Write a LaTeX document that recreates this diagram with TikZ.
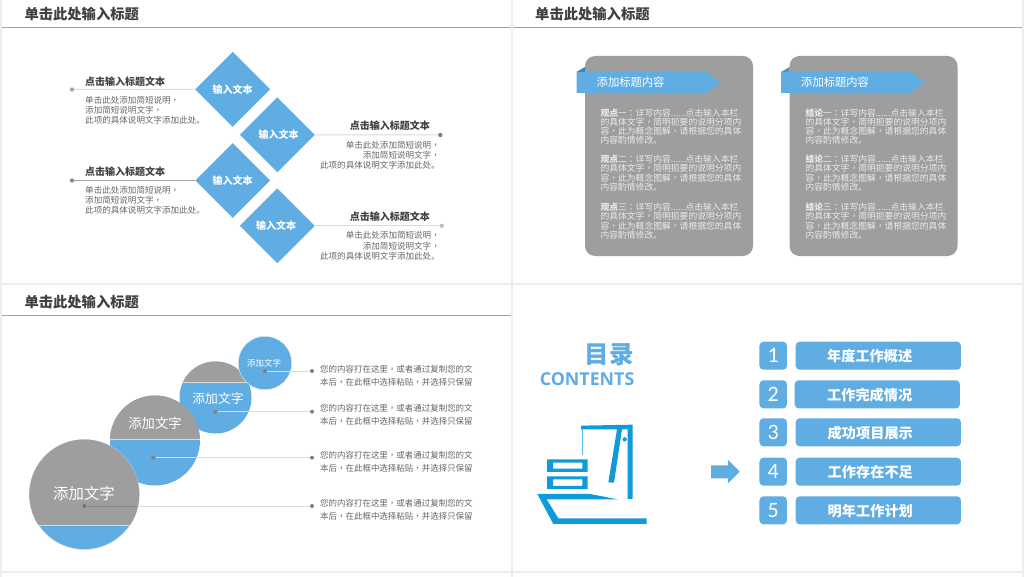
\documentclass[tikz,border=0pt]{standalone}
\usepackage{fontspec}
\setmainfont{Noto Sans CJK SC}
\newfontfamily\tcf{Noto Sans CJK TC}
\newfontfamily\latinf{Open Sans}
\newfontfamily\digitf{Carlito}
\usetikzlibrary{shapes.geometric}
\definecolor{mblue}{HTML}{5FADE2}
\definecolor{mgray}{HTML}{9E9E9E}
\definecolor{edgebg}{HTML}{E9EFF0}
\definecolor{ruleg}{HTML}{A3A3A3}
\definecolor{titleg}{HTML}{404040}
\definecolor{bodyg}{HTML}{666666}
\definecolor{iconb}{HTML}{0F9BD9}
\definecolor{foldb}{HTML}{2A86C8}
\newcommand{\cm}{{\tcf ，}}
\newcommand{\cn}{{\tcf ：}}
\tikzset{
  panel/.style={fill=white,draw=none},
  slidetitle/.style={anchor=west,inner sep=0pt,text=titleg,font=\fontsize{14.3}{16}\selectfont\bfseries},
  rulerline/.style={draw=ruleg,line width=0.9pt},
  dia/.style={diamond,aspect=1,fill=mblue,inner sep=0pt,minimum width=75pt,minimum height=75pt},
  dialabel/.style={inner sep=0pt,text=white,font=\fontsize{10}{12}\selectfont\bfseries},
  head/.style={inner sep=0pt,text=titleg,font=\fontsize{10}{12}\selectfont\bfseries},
  bodyl/.style={inner sep=0pt,anchor=north west,align=left,text=bodyg,font=\fontsize{8.55}{10.35}\selectfont},
  bodyr/.style={inner sep=0pt,anchor=north east,align=right,text=bodyg,font=\fontsize{8.55}{10.35}\selectfont},
  link/.style={draw=black!14,line width=1pt},
  dotn/.style={circle,inner sep=0pt,minimum size=4.4pt,fill=#1},
  card/.style={fill=mgray,rounded corners=10pt},
  banner/.style={fill=mblue},
  bannertxt/.style={anchor=west,inner sep=0pt,text=white,font=\fontsize{11.3}{13}\selectfont},
  cardtxt/.style={anchor=west,inner sep=0pt,align=left,text=white!92!black,font=\fontsize{8.8}{9.25}\selectfont},
  ball/.style={circle,inner sep=0pt,minimum size=#1,fill=mblue},
  balltxt/.style={inner sep=0pt,text=white},
  note/.style={anchor=west,inner sep=0pt,align=left,text=bodyg,font=\fontsize{8.47}{13.2}\selectfont},
  numbox/.style={fill=mblue,rounded corners=4pt,inner sep=0pt,minimum width=27.5pt,minimum height=28pt,text=white,font=\digitf\fontsize{22}{24}\selectfont},
  barbox/.style={fill=mblue,rounded corners=4pt,inner sep=0pt,minimum width=165.3pt,minimum height=28pt},
  bartxt/.style={inner sep=0pt,text=white,font=\fontsize{14.2}{16}\selectfont\bfseries},
  icon/.style={fill=iconb,draw=none}
}
\newcommand{\headerrow}[2]{%
  \node[slidetitle] at (#1,#2) {单击此处输入标题};
}
\newcommand{\cardpara}[4]{\node[cardtxt] at (#1,#2) {\textbf{#3}#4\cn 详写内容......点击输入本栏\\的具体文字\cm 简明扼要的说明分项内\\容\cm 此为概念图解\cm 请根据您的具体\\内容酌情修改。};}
\newcommand{\bodytext}{单击此处添加简短说明\cm\\添加简短说明文字\cm\\此项的具体说明文字添加此处。}
\newcommand{\notetext}{您的内容打在这里\cm 或者通过复制您的文\\本后\cm 在此框中选择粘贴\cm 并选择只保留}
\begin{document}
\begin{tikzpicture}[x=1pt,y=-1pt]
\useasboundingbox (0,0) rectangle (1024,577);
\fill[edgebg] (0,0) rectangle (1024,577);
\fill[panel] (2,0) rectangle (511,283);
\fill[panel] (513,0) rectangle (1022,283);
\fill[panel] (2,285) rectangle (511,570.5);
\fill[panel] (513,285) rectangle (1022,570.5);
\fill[panel] (2,573) rectangle (511,577);
\fill[panel] (513,573) rectangle (1022,577);
% headers
\headerrow{24.3}{14}
\headerrow{535}{14}
\headerrow{24.3}{302}
\draw[rulerline] (2,27.5) -- (511,27.5);
\draw[rulerline] (513,27.5) -- (1022,27.5);
\draw[rulerline] (2,315.5) -- (511,315.5);
% ---- panel 1
\node[dia] (d1) at (232.7,89.3) {};
\node[dia] (d2) at (277.3,134.8) {};
\node[dia] (d3) at (232.7,180.5) {};
\node[dia] (d4) at (277.3,225.8) {};
\node[dialabel] at (232.7,89.5) {输入文本};
\node[dialabel] at (278.5,135) {输入文本};
\node[dialabel] at (232.7,180.5) {输入文本};
\node[dialabel] at (276,225.7) {输入文本};
\node[dotn=black!35] (p1) at (72,89.5) {};
\node[dotn=black!50] (p2) at (440.3,135) {};
\node[dotn=black!45] (p3) at (72,180.5) {};
\node[dotn=black!25] (p4) at (441.7,225.8) {};
\draw[link] (p1) -- (d1.west);
\draw[link] (p2) -- (d2.east);
\draw[link,draw=black!35,line width=0.7pt] (p3) -- (d3.west);
\draw[link] (p4) -- (d4.east);
\node[head,anchor=west] at (85,81.7) {点击输入标题文本};
\node[head,anchor=west] at (85,172) {点击输入标题文本};
\node[head,anchor=east] at (430,126) {点击输入标题文本};
\node[head,anchor=east] at (430,216.7) {点击输入标题文本};
\node[bodyl] at (85,95.6) {\bodytext};
\node[bodyl] at (85,185.7) {\bodytext};
\node[bodyr] at (440,140.7) {\bodytext};
\node[bodyr] at (440,231.4) {\bodytext};
% ---- panel 2
\fill[card] (585,56) rectangle (753,256);
\fill[card] (789.5,56) rectangle (957.5,256);
\fill[foldb] (576.5,72) -- (585,67) -- (585,72) -- cycle;
\fill[foldb!55!mgray] (781,72) -- (789.5,67) -- (789.5,72) -- cycle;
\fill[banner] (576.5,72) -- (706,72) -- (720.5,82.5) -- (706,93) -- (576.5,93) -- cycle;
\fill[banner] (781,72) -- (910.5,72) -- (925,82.5) -- (910.5,93) -- (781,93) -- cycle;
\node[bannertxt] at (596.5,82.5) {添加标题内容};
\node[bannertxt] at (801,82.5) {添加标题内容};
\cardpara{600.3}{126.5}{观点}{一}
\cardpara{600.3}{173.2}{观点}{二}
\cardpara{600.3}{221.2}{观点}{三}
\cardpara{805.3}{126.5}{结论}{一}
\cardpara{805.3}{173.2}{结论}{二}
\cardpara{805.3}{221.2}{结论}{三}
% ---- panel 3
\node[ball=72pt] (c3) at (215.5,397.5) {};
\begin{scope}
  \clip (215.5,397.5) circle (36);
  \fill[mgray] (170,355) rectangle (260,382.3);
  \draw[white!85!black,line width=0.7pt] (170,382.3) -- (260,382.3);
\end{scope}
\node[ball=53.5pt,draw=white!92!black,line width=0.4pt] (c4) at (265,363) {};
\node[ball=90pt] (c2) at (155,440.5) {};
\begin{scope}
  \clip (155,440.5) circle (45);
  \fill[mgray] (105,390) rectangle (205,439.7);
  \draw[white!85!black,line width=0.7pt] (105,439.7) -- (205,439.7);
\end{scope}
\node[ball=110pt,draw=white!88!black,line width=0.5pt] (c1) at (84.3,494.5) {};
\begin{scope}
  \clip (84.3,494.5) circle (55);
  \fill[mgray] (25,435) rectangle (145,525.3);
  \draw[white!85!black,line width=0.7pt] (25,525.3) -- (145,525.3);
\end{scope}
\node[dotn=black!55,minimum size=4pt] (a1) at (84.3,506) {};
\node[dotn=black!50,minimum size=4pt] (a2) at (153.3,457.7) {};
\node[dotn=black!50,minimum size=4pt] (a3) at (215.3,411.7) {};
\node[dotn=black!50,minimum size=4pt] (a4) at (265,371) {};
\node[dotn=black!50,minimum size=4pt] (b1) at (312,506) {};
\node[dotn=black!50,minimum size=4pt] (b2) at (312,457.7) {};
\node[dotn=black!50,minimum size=4pt] (b3) at (312,411.7) {};
\node[dotn=black!50,minimum size=4pt] (b4) at (312,371) {};
\draw[link,line width=0.8pt] (a1) -- (b1);
\draw[link,line width=0.8pt] (a2) -- (b2);
\draw[link,line width=0.8pt] (a3) -- (b3);
\draw[link,line width=0.8pt] (a4) -- (b4);
\begin{scope}
  \clip (84.3,494.5) circle (54.5);
  \draw[draw=black!48,line width=0.8pt] (a1) -- (b1);
\end{scope}
\node[balltxt,font=\fontsize{15.4}{18}\selectfont] at (84,494) {添加文字};
\node[balltxt,font=\fontsize{13.3}{16}\selectfont] at (155,423) {添加文字};
\node[balltxt,font=\fontsize{12.8}{15}\selectfont] at (218,398.5) {添加文字};
\node[balltxt,font=\fontsize{8.5}{10}\selectfont] at (264,363) {添加文字};
\node[note] at (320,376) {\notetext};
\node[note] at (320,414.7) {\notetext};
\node[note] at (320,461.8) {\notetext};
\node[note] at (320,509.5) {\notetext};
% ---- panel 4
\node[anchor=east,inner sep=0pt,text=mblue,font=\fontsize{24.5}{28}\selectfont\bfseries] at (634,355) {目录};
\node[anchor=east,inner sep=0pt,text=mblue,font=\latinf\fontsize{17.8}{20}\selectfont\bfseries] at (634.5,378.7) {CONTENTS};
\begin{scope}[shift={(525,400)},x=0.3333pt,y=-0.3333pt]
  \fill[icon] (168,77) -- (323,74) -- (323,297) -- (308,297) -- (308,88) -- (291,88) -- (267,248) -- (250,247) -- (276,88) -- (168,88) -- cycle;
  \fill[iconb!70!white] (170,88) rectangle (175,166);
  \fill[icon] (299,118) circle (6.5);
  \fill[icon,even odd rule] (66,178) rectangle (188,216) (84,188) rectangle (172,206);
  \fill[icon,even odd rule] (66,229) rectangle (188,267) (84,238) rectangle (172,258);
  \fill[icon] (37,282) -- (195,282) -- (278,298) -- (65,298) -- (100,355) -- (365,355) -- (365,372) -- (85,372) -- cycle;
\end{scope}
\fill[mblue] (711,465.3) -- (728,465.3) -- (728,460) -- (739.7,471.7) -- (728,483.3) -- (728,478.3) -- (711,478.3) -- cycle;
\node[numbox] (n1) at (773.2,355.7) {1};
\node[numbox] (n2) at (773.2,394.3) {2};
\node[numbox] (n3) at (773.2,432.3) {3};
\node[numbox] (n4) at (773.2,471.7) {4};
\node[numbox] (n5) at (773.2,510.3) {5};
\node[barbox] (r1) at (878.3,355.7) {};
\node[barbox] (r2) at (877.3,394.3) {};
\node[barbox] (r3) at (878.3,432.3) {};
\node[barbox] (r4) at (878.3,471.7) {};
\node[barbox] (r5) at (878.3,510.3) {};
\node[bartxt] at (869.7,356) {年度工作概述};
\node[bartxt] at (869.7,395) {工作完成情况};
\node[bartxt] at (870.3,433.3) {成功项目展示};
\node[bartxt] at (870.3,472.5) {工作存在不足};
\node[bartxt] at (870.3,510.7) {明年工作计划};
\end{tikzpicture}
\end{document}
